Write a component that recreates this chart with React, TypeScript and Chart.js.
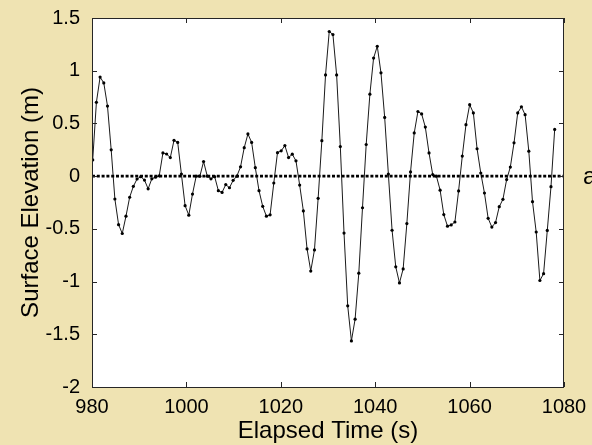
import React, { useEffect, useRef } from 'react';
import { Chart, registerables } from 'chart.js';

Chart.register(...registerables);

// Sampling of the record (regular time base)
const TIME_START = 980.15;
const SAMPLE_STEP = 0.783;

// Surface elevation samples (m)
const ELEVATION = [
  0.154, 0.70, 0.94, 0.884, 0.665, 0.25, -0.217, -0.46, -0.544, -0.38,
  -0.20, -0.097, -0.027, -0.005, -0.037, -0.12, -0.025, -0.01, 0.003, 0.22,
  0.21, 0.176, 0.34, 0.32, 0.02, -0.28, -0.37, -0.17, 0.0, 0.0,
  0.138, 0.0, -0.025, -0.005, -0.138, -0.154, -0.08, -0.11, -0.04, 0.0,
  0.088, 0.27, 0.40, 0.32, 0.08, -0.138, -0.286, -0.38, -0.367, -0.065,
  0.223, 0.24, 0.29, 0.176, 0.208, 0.145, -0.085, -0.33, -0.69, -0.90,
  -0.70, -0.21, 0.336, 0.96, 1.372, 1.343, 0.96, 0.28, -0.54, -1.23,
  -1.563, -1.357, -0.92, -0.30, 0.30, 0.777, 1.12, 1.232, 0.98, 0.557,
  0.02, -0.513, -0.86, -1.013, -0.88, -0.45, 0.04, 0.41, 0.613, 0.59,
  0.465, 0.22, 0.015, 0.0, -0.133, -0.365, -0.475, -0.463, -0.435, -0.14,
  0.19, 0.488, 0.678, 0.60, 0.26, 0.03, -0.16, -0.40, -0.483, -0.44,
  -0.29, -0.22, -0.033, 0.086, 0.316, 0.60, 0.658, 0.583, 0.237, -0.242,
  -0.53, -0.99, -0.925, -0.515, -0.10, 0.443,
];

const ZERO_LINE_X = [980, 1080];
const ZERO_LINE_Y = [0, 0];

const X_TICKS = [980, 1000, 1020, 1040, 1060, 1080];
const Y_TICKS = [-2, -1.5, -1, -0.5, 0, 0.5, 1, 1.5];

const X_LABEL = 'Elapsed Time (s)';
const Y_LABEL = 'Surface Elevation (m)';
const SIDE_LABEL = 'a)';

const FONT = '"Liberation Sans", Arial, Helvetica, sans-serif';
const BG = 'rgb(239, 227, 178)';

export default function App() {
  const ref = useRef<HTMLCanvasElement | null>(null);

  useEffect(() => {
    const canvas = ref.current;
    if (!canvas) return;

    const seriesData = ELEVATION.map((v, i) => ({ x: TIME_START + i * SAMPLE_STEP, y: v }));
    const zeroData = ZERO_LINE_X.map((x, i) => ({ x, y: ZERO_LINE_Y[i] }));

    const framePlugin = {
      id: 'matlabFrame',
      beforeDraw(chart: any) {
        const { ctx, chartArea: a, width, height } = chart;
        ctx.save();
        ctx.fillStyle = BG;
        ctx.fillRect(0, 0, width, height);
        ctx.fillStyle = '#ffffff';
        ctx.fillRect(a.left, a.top, a.right - a.left, a.bottom - a.top);
        ctx.restore();
      },
      afterDraw(chart: any) {
        const { ctx, chartArea: a, scales } = chart;
        ctx.save();
        ctx.strokeStyle = '#262626';
        ctx.lineWidth = 1;
        ctx.beginPath();
        scales.x.ticks.forEach((t: any) => {
          const px = Math.round(scales.x.getPixelForValue(t.value)) + 0.5;
          ctx.moveTo(px, a.bottom);
          ctx.lineTo(px, a.bottom - 5);
          ctx.moveTo(px, a.top);
          ctx.lineTo(px, a.top + 5);
        });
        scales.y.ticks.forEach((t: any) => {
          const py = Math.round(scales.y.getPixelForValue(t.value)) + 0.5;
          ctx.moveTo(a.left, py);
          ctx.lineTo(a.left + 5, py);
          ctx.moveTo(a.right, py);
          ctx.lineTo(a.right - 5, py);
        });
        ctx.stroke();
        ctx.strokeRect(a.left + 0.5, a.top + 0.5, a.right - a.left - 1, a.bottom - a.top);
        ctx.fillStyle = '#000';
        ctx.font = `24px ${FONT}`;
        ctx.textAlign = 'left';
        ctx.textBaseline = 'alphabetic';
        ctx.fillText(SIDE_LABEL, 583, 184);
        ctx.restore();
      },
    };

    const chart = new Chart(canvas, {
      type: 'line',
      data: {
        datasets: [
          {
            label: 'zero',
            data: zeroData,
            borderColor: '#000',
            borderWidth: 2.6,
            borderDash: [3, 1.8],
            pointRadius: 0,
            fill: false,
          },
          {
            label: 'elevation',
            data: seriesData,
            borderColor: '#1a1a1a',
            borderWidth: 1,
            pointRadius: 1.6,
            pointBackgroundColor: '#000',
            pointBorderWidth: 0,
            tension: 0,
            fill: false,
          },
        ],
      },
      plugins: [framePlugin],
      options: {
        responsive: false,
        animation: false,
        devicePixelRatio: 1,
        events: [],
        layout: { padding: { left: 0, top: 18, right: 28, bottom: 0 } },
        plugins: {
          legend: { display: false },
          tooltip: { enabled: false },
        },
        scales: {
          x: {
            type: 'linear',
            min: X_TICKS[0],
            max: X_TICKS[X_TICKS.length - 1],
            afterBuildTicks: (s: any) => {
              s.ticks = X_TICKS.map((v) => ({ value: v }));
            },
            afterFit: (s: any) => {
              s.height = 58;
            },
            grid: { display: false },
            border: { display: false },
            ticks: {
              color: '#000',
              padding: 0,
              maxRotation: 0,
              autoSkip: false,
              font: { family: FONT, size: 20 },
              callback: (v: any) => String(v),
            },
            title: {
              display: true,
              text: X_LABEL,
              color: '#000',
              font: { family: FONT, size: 24 },
              padding: { top: 0, bottom: -1 },
            },
          },
          y: {
            type: 'linear',
            min: Y_TICKS[0],
            max: Y_TICKS[Y_TICKS.length - 1],
            afterBuildTicks: (s: any) => {
              s.ticks = Y_TICKS.map((v) => ({ value: v }));
            },
            afterFit: (s: any) => {
              s.width = 92;
            },
            grid: { display: false },
            border: { display: false },
            ticks: {
              color: '#000',
              padding: 4,
              autoSkip: false,
              font: { family: FONT, size: 20 },
              callback: (v: any) => String(v),
            },
            title: {
              display: true,
              text: Y_LABEL,
              color: '#000',
              font: { family: FONT, size: 24 },
              padding: { top: 16.6, bottom: 0 },
            },
          },
        },
      },
    });

    return () => chart.destroy();
  }, []);

  return (
    <div style={{ position: 'absolute', left: 0, top: 0, width: 592, height: 445, background: BG }}>
      <canvas ref={ref} width={592} height={445} style={{ display: 'block', width: 592, height: 445 }} />
    </div>
  );
}
